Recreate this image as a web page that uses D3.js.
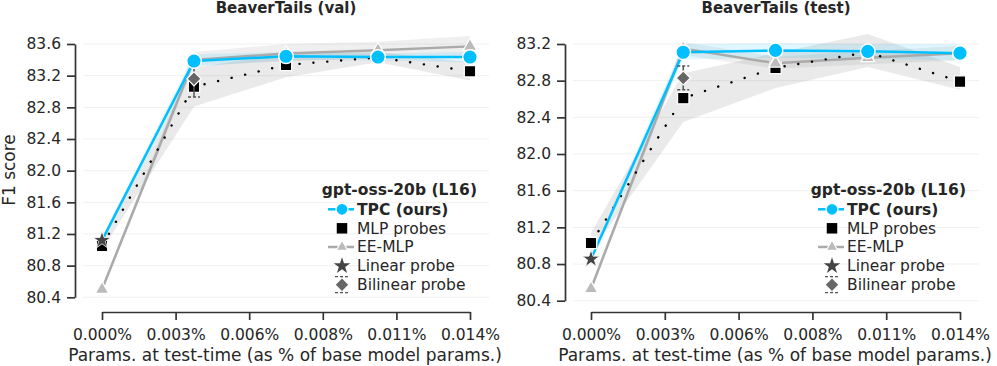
<!DOCTYPE html>
<html>
<head>
<meta charset="utf-8">
<script src="https://cdn.jsdelivr.net/npm/d3@7"></script>
<style>
  body { margin: 0; background: #fff; }
  text { font-family: "DejaVu Sans", sans-serif; fill: #262626; }
</style>
</head>
<body>
<div class="chart"></div>
<script>
// budgets (% of base model params) and tick labels
let budgets = [0, 0.0035, 0.007, 0.0105, 0.014];
let xTicks = [0, 0.0028, 0.0056, 0.0084, 0.0112, 0.014];
let xTickLabels = ["0.000%", "0.003%", "0.006%", "0.008%", "0.011%", "0.014%"];
let yTicksVal = [80.4, 80.8, 81.2, 81.6, 82.0, 82.4, 82.8, 83.2, 83.6];
let yTicksTest = [80.4, 80.8, 81.2, 81.6, 82.0, 82.4, 82.8, 83.2];

// BeaverTails (val)
let tpcVal   = [81.12, 83.385, 83.445, 83.435, 83.435];
let tpcValLo = [81.08, 83.31, 83.40, 83.39, 83.37];
let tpcValHi = [81.16, 83.47, 83.50, 83.48, 83.50];
let mlpVal   = [81.05, 83.06, 83.335, 83.43, 83.255];
let mlpValLo = [81.00, 82.81, 83.18, 83.37, 83.14];
let mlpValHi = [81.10, 83.30, 83.48, 83.50, 83.37];
let eeVal    = [80.50, 83.40, 83.48, 83.52, 83.57];
let eeValLo  = [80.46, 83.33, 83.38, 83.42, 83.44];
let eeValHi  = [80.54, 83.50, 83.60, 83.63, 83.70];
let linearVal = 81.12;
let bilinearVal = 83.16, bilinearValErr = 0.23;

// BeaverTails (test)
let tpcTest   = [80.855, 83.11, 83.13, 83.12, 83.10];
let tpcTestLo = [80.82, 83.03, 83.05, 83.04, 83.02];
let tpcTestHi = [80.89, 83.20, 83.21, 83.20, 83.20];
let mlpTest   = [81.03, 82.61, 82.94, 83.11, 82.79];
let mlpTestLo = [80.93, 82.35, 82.72, 82.95, 82.70];
let mlpTestHi = [81.14, 82.88, 83.10, 83.31, 82.95];
let eeTest    = [80.53, 83.15, 82.99, 83.05, 83.10];
let eeTestLo  = [80.50, 83.08, 82.93, 82.98, 83.02];
let eeTestHi  = [80.56, 83.22, 83.06, 83.12, 83.18];
let linearTest = 80.855;
let bilinearTest = 82.83, bilinearTestErr = 0.13;

let legendTitle = "gpt-oss-20b (L16)";
let legendLabels = ["TPC (ours)", "MLP probes", "EE-MLP", "Linear probe", "Bilinear probe"];

let tpcColor = "#00bfff";
let eeColor = "#aaaaaa";

let svgWidth = 997, svgHeight = 366;
let svg = d3.select(".chart").append("svg")
  .attr("width", svgWidth)
  .attr("height", svgHeight);

let panels = [
  { title: "BeaverTails (val)", x0: 102, x1: 470, yTop: 44, yBot: 297.3, spineX: 75, gridL: 83, gridR: 489,
    yTicks: yTicksVal, tpc: tpcVal, tpcLo: tpcValLo, tpcHi: tpcValHi, mlp: mlpVal, mlpLo: mlpValLo, mlpHi: mlpValHi,
    ee: eeVal, eeLo: eeValLo, eeHi: eeValHi, linear: linearVal, bil: bilinearVal, bilErr: bilinearValErr,
    legX: 342, legTitleRight: 477 },
  { title: "BeaverTails (test)", x0: 591, x1: 960, yTop: 44, yBot: 300.7, spineX: 565, gridL: 573, gridR: 979,
    yTicks: yTicksTest, tpc: tpcTest, tpcLo: tpcTestLo, tpcHi: tpcTestHi, mlp: mlpTest, mlpLo: mlpTestLo, mlpHi: mlpTestHi,
    ee: eeTest, eeLo: eeTestLo, eeHi: eeTestHi, linear: linearTest, bil: bilinearTest, bilErr: bilinearTestErr,
    legX: 832, legTitleRight: 966 }
];

let sym = (type, size) => d3.symbol().type(type).size(size)();

panels.forEach(function(p) {
  let g = svg.append("g");
  let x = d3.scaleLinear().domain([0, 0.014]).range([p.x0, p.x1]);
  let y = d3.scaleLinear().domain([d3.min(p.yTicks), d3.max(p.yTicks)]).range([p.yBot, p.yTop]);

  // grid
  g.selectAll(".grid").data(p.yTicks).enter().append("line")
    .attr("x1", p.gridL).attr("x2", p.gridR)
    .attr("y1", d => y(d)).attr("y2", d => y(d))
    .attr("stroke", "#f0f0f0").attr("stroke-width", 1);

  // bands
  let band = (lo, hi) => d3.area()
    .x((d, i) => x(budgets[i]))
    .y0((d, i) => y(lo[i]))
    .y1((d, i) => y(hi[i]))(budgets);
  g.append("path").attr("d", band(p.eeLo, p.eeHi)).attr("fill", "#808080").attr("opacity", 0.13);
  g.append("path").attr("d", band(p.mlpLo, p.mlpHi)).attr("fill", "#808080").attr("opacity", 0.17);
  g.append("path").attr("d", band(p.tpcLo, p.tpcHi)).attr("fill", tpcColor).attr("opacity", 0.12);

  let line = vals => d3.line().x((d, i) => x(budgets[i])).y(d => y(d))(vals);

  g.append("path").attr("d", line(p.ee)).attr("fill", "none")
    .attr("stroke", eeColor).attr("stroke-width", 2.5);
  g.append("path").attr("d", line(p.mlp)).attr("fill", "none")
    .attr("stroke", "#000").attr("stroke-width", 2.4)
    .attr("stroke-linecap", "round").attr("stroke-dasharray", "0.1,13.8");
  g.append("path").attr("d", line(p.tpc)).attr("fill", "none")
    .attr("stroke", tpcColor).attr("stroke-width", 2.5);

  // MLP squares
  g.selectAll(".sq").data(p.mlp).enter().append("path")
    .attr("d", sym(d3.symbolSquare, 130))
    .attr("transform", (d, i) => `translate(${x(budgets[i])},${y(d)})`)
    .attr("fill", "#000").attr("stroke", "#fff").attr("stroke-width", 1.3);

  // EE-MLP triangles
  g.selectAll(".tri").data(p.ee).enter().append("path")
    .attr("d", sym(d3.symbolTriangle, 80))
    .attr("transform", (d, i) => `translate(${x(budgets[i])},${y(d)})`)
    .attr("fill", "#bbbbbb").attr("stroke", "#fff").attr("stroke-width", 1.3);

  // bilinear probe with errorbar
  let bx = x(budgets[1]);
  g.append("line").attr("x1", bx).attr("x2", bx)
    .attr("y1", y(p.bil - p.bilErr)).attr("y2", y(p.bil + p.bilErr))
    .attr("stroke", "#555").attr("stroke-width", 1.5);
  [p.bil - p.bilErr, p.bil + p.bilErr].forEach(v => {
    g.append("line").attr("x1", bx - 6).attr("x2", bx + 6)
      .attr("y1", y(v)).attr("y2", y(v))
      .attr("stroke", "#555").attr("stroke-width", 1.5).attr("stroke-dasharray", "3,2");
  });
  g.append("path").attr("d", sym(d3.symbolSquare, 100))
    .attr("transform", `translate(${bx},${y(p.bil)}) rotate(45)`)
    .attr("fill", "#666").attr("stroke", "#fff").attr("stroke-width", 1.2);

  // linear probe star
  g.append("path").attr("d", sym(d3.symbolStar, 95))
    .attr("transform", `translate(${x(budgets[0])},${y(p.linear)})`)
    .attr("fill", "#444").attr("stroke", "#fff").attr("stroke-width", 0.8);

  // TPC circles (no marker at zero budget)
  g.selectAll(".tpc").data(p.tpc.slice(1)).enter().append("circle")
    .attr("cx", (d, i) => x(budgets[i + 1])).attr("cy", d => y(d))
    .attr("r", 7.3)
    .attr("fill", tpcColor).attr("stroke", "#fff").attr("stroke-width", 1.5);

  // axes (trimmed spines)
  let leftAxis = d3.axisLeft(y).tickValues(p.yTicks).tickSize(8).tickSizeOuter(0).tickPadding(6)
    .tickFormat(d3.format(".1f"));
  let ya = g.append("g").attr("transform", `translate(${p.spineX},0)`).call(leftAxis);
  let bottomAxis = d3.axisBottom(x).tickValues(xTicks).tickSize(8).tickSizeOuter(0).tickPadding(9)
    .tickFormat((d, i) => xTickLabels[i]);
  let xa = g.append("g").attr("transform", "translate(0,312)").call(bottomAxis);
  [ya, xa].forEach(a => {
    a.select(".domain").attr("stroke", "#333").attr("stroke-width", 1.7);
    a.selectAll(".tick line").attr("stroke", "#333").attr("stroke-width", 1.7);
    a.selectAll(".tick text").style("font-size", "15.5px").attr("fill", "#262626")
      .style("font-family", "DejaVu Sans");
  });

  // title and x label
  g.append("text").attr("x", (p.gridL + p.gridR) / 2).attr("y", 13)
    .attr("text-anchor", "middle").style("font-size", "15px").style("font-weight", "bold")
    .text(p.title);
  g.append("text").attr("x", (p.gridL + p.gridR) / 2 - 1).attr("y", 360.5)
    .attr("text-anchor", "middle").style("font-size", "17px")
    .text("Params. at test-time (as % of base model params.)");

  // legend
  let lg = g.append("g");
  lg.append("text").attr("x", p.legTitleRight).attr("y", 195).attr("text-anchor", "end")
    .style("font-size", "15.5px").style("font-weight", "bold").text(legendTitle);
  let rowY = [209.3, 228.3, 247, 266, 284.7];
  let tx = p.legX + 15;
  legendLabels.forEach((lab, i) => {
    lg.append("text").attr("x", tx).attr("y", rowY[i] + 5.3)
      .style("font-size", "15.5px").style("font-weight", i === 0 ? "bold" : "normal").text(lab);
  });
  let lx = p.legX;
  lg.append("line").attr("x1", lx - 14).attr("x2", lx + 12).attr("y1", rowY[0]).attr("y2", rowY[0])
    .attr("stroke", tpcColor).attr("stroke-width", 2.5);
  lg.append("circle").attr("cx", lx).attr("cy", rowY[0]).attr("r", 6)
    .attr("fill", tpcColor).attr("stroke", "#fff").attr("stroke-width", 1.3);
  lg.append("path").attr("d", sym(d3.symbolSquare, 110))
    .attr("transform", `translate(${lx},${rowY[1]})`).attr("fill", "#000");
  lg.append("line").attr("x1", lx - 14).attr("x2", lx + 12).attr("y1", rowY[2]).attr("y2", rowY[2])
    .attr("stroke", eeColor).attr("stroke-width", 2.5);
  lg.append("path").attr("d", sym(d3.symbolTriangle, 60))
    .attr("transform", `translate(${lx},${rowY[2]})`).attr("fill", "#bbbbbb")
    .attr("stroke", "#fff").attr("stroke-width", 1.2);
  lg.append("path").attr("d", sym(d3.symbolStar, 85))
    .attr("transform", `translate(${lx},${rowY[3]})`).attr("fill", "#444");
  [rowY[4] - 8, rowY[4] + 8].forEach(v => {
    lg.append("line").attr("x1", lx - 7).attr("x2", lx + 7).attr("y1", v).attr("y2", v)
      .attr("stroke", "#555").attr("stroke-width", 1.3).attr("stroke-dasharray", "3,2");
  });
  lg.append("line").attr("x1", lx).attr("x2", lx).attr("y1", rowY[4] - 8).attr("y2", rowY[4] + 8)
    .attr("stroke", "#555").attr("stroke-width", 1.3);
  lg.append("path").attr("d", sym(d3.symbolSquare, 95))
    .attr("transform", `translate(${lx},${rowY[4]}) rotate(45)`).attr("fill", "#666")
    .attr("stroke", "#fff").attr("stroke-width", 1);
});

// y label
svg.append("text")
  .attr("transform", "translate(15,170) rotate(-90)")
  .attr("text-anchor", "middle").style("font-size", "17px")
  .text("F1 score");
</script>
</body>
</html>
